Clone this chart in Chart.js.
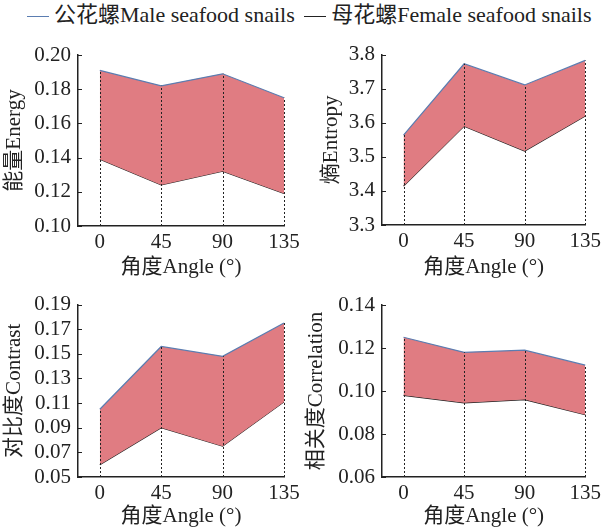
<!DOCTYPE html>
<html>
<head>
<meta charset="utf-8">
<script src="https://cdn.jsdelivr.net/npm/chart.js@4.4.0/dist/chart.umd.min.js"></script>
<style>
body{margin:0;width:605px;height:531px;background:#fff;position:relative;overflow:hidden;
  font-family:"Liberation Serif","Noto Sans CJK SC",serif;}
.legend{position:absolute;top:0px;left:27px;font-size:22px;line-height:30px;color:#222;white-space:nowrap;}
.legend .ln{display:inline-block;width:22px;height:0;border-top:1.5px solid;vertical-align:middle;margin-right:5px;}
canvas{position:absolute;}
</style>
</head>
<body>
<div class="legend">
  <span class="ln" style="border-color:#5b7db1"></span>公花螺Male seafood snails
  <span class="ln" style="border-color:#222;margin-left:4px"></span>母花螺Female seafood snails
</div>
<canvas id="c1"></canvas>
<canvas id="c2"></canvas>
<canvas id="c3"></canvas>
<canvas id="c4"></canvas>
<script>
// angles on the x axis
const angles = [0, 45, 90, 135];

// energy
const energyMale   = [0.191, 0.182, 0.189, 0.175];
const energyFemale = [0.139, 0.124, 0.132, 0.119];
const energyTicks  = [0.10, 0.12, 0.14, 0.16, 0.18, 0.20];

// entropy
const entropyMale   = [3.564, 3.773, 3.711, 3.783];
const entropyFemale = [3.414, 3.590, 3.517, 3.620];
const entropyTicks  = [3.3, 3.4, 3.5, 3.6, 3.7, 3.8];

// contrast
const contrastMale   = [0.105, 0.156, 0.148, 0.175];
const contrastFemale = [0.060, 0.090, 0.075, 0.111];
const contrastTicks  = [0.05, 0.07, 0.09, 0.11, 0.13, 0.15, 0.17, 0.19];

// correlation
const correlationMale   = [0.125, 0.118, 0.119, 0.112];
const correlationFemale = [0.098, 0.0945, 0.096, 0.089];
const correlationTicks  = [0.06, 0.08, 0.10, 0.12, 0.14];

Chart.defaults.font.family = '"Liberation Serif","Noto Sans CJK SC",serif';
Chart.defaults.font.size = 21;
Chart.defaults.color = '#222';

// dotted drop lines from the axis up to the male curve
const dropLines = {
  id: 'dropLines',
  afterDatasetsDraw(chart) {
    const ctx = chart.ctx, bottom = chart.chartArea.bottom;
    const pts = chart.getDatasetMeta(0).data;
    ctx.save();
    ctx.strokeStyle = '#222';
    ctx.lineWidth = 1;
    ctx.setLineDash([2, 2]);
    pts.forEach(p => {
      const px = Math.round(p.x) + 0.5;
      ctx.beginPath();
      ctx.moveTo(px, bottom);
      ctx.lineTo(px, p.y);
      ctx.stroke();
    });
    ctx.restore();
  }
};

// short inward tick marks on the y axis
const innerTicks = {
  id: 'innerTicks',
  afterDraw(chart) {
    const ctx = chart.ctx, y = chart.scales.y, left = chart.chartArea.left;
    ctx.save();
    ctx.strokeStyle = '#222';
    ctx.lineWidth = 1;
    y.ticks.forEach(t => {
      const py = Math.round(y.getPixelForValue(t.value)) + 0.5;
      ctx.beginPath();
      ctx.moveTo(left, py);
      ctx.lineTo(left + 4, py);
      ctx.stroke();
    });
    ctx.restore();
  }
};

function makeChart(id, box, male, female, yTicks, dec, yTitle) {
  const cv = document.getElementById(id);
  cv.width = box.w; cv.height = box.h;
  cv.style.left = box.left + 'px';
  cv.style.top = box.top + 'px';
  return new Chart(cv, {
    type: 'line',
    data: {
      datasets: [{
        data: angles.map((a, i) => ({x: a, y: male[i]})),
        borderColor: '#5b7db1',
        borderWidth: 1.2,
        backgroundColor: '#e07c82',
        fill: '+1',
        pointRadius: 0,
        tension: 0
      }, {
        data: angles.map((a, i) => ({x: a, y: female[i]})),
        borderColor: '#222',
        borderWidth: 1.2,
        fill: false,
        pointRadius: 0,
        tension: 0
      }]
    },
    options: {
      responsive: false,
      animation: false,
      clip: false,
      layout: {padding: {top: box.pt, right: box.pr, left: 0, bottom: 0}},
      plugins: {legend: {display: false}, tooltip: {enabled: false}},
      scales: {
        x: {
          type: 'linear',
          min: -16, max: 135,
          afterBuildTicks: s => { s.ticks = angles.map(v => ({value: v})); },
          afterFit: s => { s.height = box.xh; },
          grid: {display: false, drawTicks: false},
          border: {display: true, color: '#222', width: 1.5},
          ticks: {padding: 4, maxRotation: 0, autoSkip: false, callback: v => String(v)},
          title: {display: true, text: '角度Angle (°)', padding: 0}
        },
        y: {
          min: yTicks[0], max: yTicks[yTicks.length - 1],
          afterBuildTicks: s => { s.ticks = yTicks.map(v => ({value: v})); },
          afterFit: s => { s.width = box.yw; },
          grid: {display: false, drawTicks: false},
          border: {display: true, color: '#222', width: 1.5},
          ticks: {padding: 7, autoSkip: false, callback: v => v.toFixed(dec)},
          title: {display: true, text: yTitle, padding: box.tp}
        }
      }
    },
    plugins: [dropLines, innerTicks]
  });
}

makeChart('c1', {left: 0, top: 35, w: 305, h: 245, yw: 78, xh: 54, pt: 20, pr: 21, tp: 2},
  energyMale, energyFemale, energyTicks, 2, '能量Energy');
makeChart('c2', {left: 316, top: 35, w: 289, h: 245, yw: 66, xh: 55, pt: 18, pr: 18, tp: 3},
  entropyMale, entropyFemale, entropyTicks, 1, '熵Entropy');
makeChart('c3', {left: 0, top: 285, w: 305, h: 244, yw: 78, xh: 52, pt: 18, pr: 21, tp: 2},
  contrastMale, contrastFemale, contrastTicks, 2, '对比度Contrast');
makeChart('c4', {left: 304, top: 285, w: 301, h: 244, yw: 78, xh: 52, pt: 20, pr: 18, tp: 0},
  correlationMale, correlationFemale, correlationTicks, 2, '相关度Correlation');
</script>
</body>
</html>
